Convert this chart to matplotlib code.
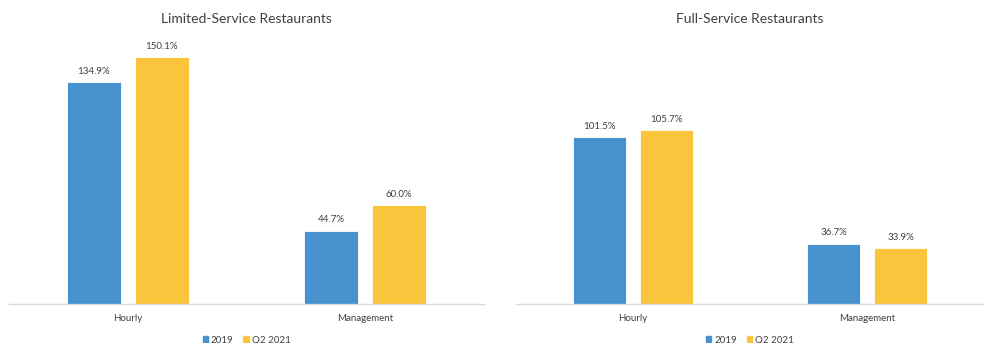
import numpy as np
import matplotlib.pyplot as plt
from matplotlib.patches import Patch

plt.rcParams['font.family'] = ['Lato', 'DejaVu Sans']

categories = ['Hourly', 'Management']
series = ['2019', 'Q2 2021']
limited_2019 = [134.9, 44.7]
limited_2021 = [150.1, 60.0]
full_2019 = [101.5, 36.7]
full_2021 = [105.7, 33.9]

blue = '#4691CE'
yellow = '#FAC53C'
W, H = 984, 343

fig = plt.figure(figsize=(9.84, 3.43), dpi=100)

def panel(x0, x1, title, v1, v2):
    ax = fig.add_axes([x0 / W, 39 / H, (x1 - x0) / W, 263 / H])
    x = np.arange(len(categories))
    bw = 0.227
    off = 0.143
    b1 = ax.bar(x - off, v1, bw, color=blue, edgecolor='white', linewidth=0.6)
    b2 = ax.bar(x + off, v2, bw, color=yellow, edgecolor='white', linewidth=0.6)
    for bars in (b1, b2):
        for b in bars:
            ax.text(b.get_x() + b.get_width() / 2, b.get_height() + 4,
                    f'{b.get_height():.1f}%', ha='center', va='bottom',
                    fontsize=7, color='#404040')
    ax.set_xlim(-0.5, 1.5)
    ax.set_ylim(0, 160)
    ax.set_xticks(x)
    ax.set_xticklabels(categories, fontsize=7, color='#404040')
    ax.tick_params(axis='x', length=0, pad=7)
    ax.set_yticks([])
    for s in ['top', 'right', 'left']:
        ax.spines[s].set_visible(False)
    ax.spines['bottom'].set_color('#D9D9D9')
    ax.spines['bottom'].set_linewidth(1)
    fig.text(((x0 + x1) / 2) / W, 1 - 19 / H, title, ha='center', va='center',
             fontsize=10, color='#404040')
    handles = [Patch(color=blue, label=series[0]), Patch(color=yellow, label=series[1])]
    ax.legend(handles=handles, loc='center', bbox_to_anchor=(0.5, -0.137),
              ncol=2, frameon=False, fontsize=7, handlelength=0.55,
              handleheight=0.55, handletextpad=0.3, columnspacing=1.0,
              labelcolor='#404040', borderpad=0)
    return ax

panel(9, 484, 'Limited-Service Restaurants', limited_2019, limited_2021)
panel(516, 984, 'Full-Service Restaurants', full_2019, full_2021)

fig.savefig('out.png', dpi=100)
